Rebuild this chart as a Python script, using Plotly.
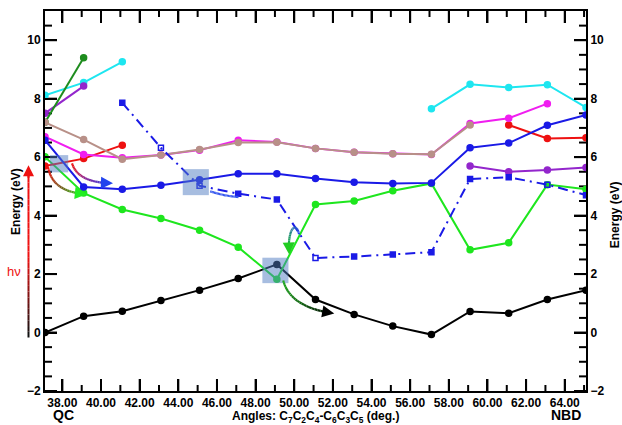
import plotly.graph_objects as go
import numpy as np

# ---------------- data ----------------
angles = [37.1, 39.1, 41.1, 43.1, 45.1, 47.1, 49.1, 51.1, 53.1, 55.1, 57.1, 59.1, 61.1, 63.1, 65.1]

s_black = [0.0, 0.56, 0.73, 1.1, 1.45, 1.85, 2.33, 1.13, 0.62, 0.22, -0.07, 0.72, 0.66, 1.13, 1.45]
s_green = [6.01, 4.77, 4.21, 3.9, 3.5, 2.92, 1.82, 4.38, 4.5, 4.85, 5.1, 2.83, 3.07, 5.06, 4.9]
s_blue = [6.58, 4.98, 4.9, 5.04, 5.23, 5.43, 5.43, 5.27, 5.14, 5.1, 5.12, 6.32, 6.48, 7.09, 7.44]
s_blue_dd = [None, None, 7.86, 6.32, 5.02, 4.75, 4.55, 2.55, 2.6, 2.67, 2.75, 5.25, 5.31, 5.06, 4.7]
s_magenta = [6.7, 6.09, 5.98, 6.07, 6.24, 6.58, 6.52, 6.3, 6.17, 6.12, 6.09, 7.15, 7.33, 7.83, None]
s_brown = [7.19, 6.6, 5.93, 6.07, 6.26, 6.5, 6.51, 6.3, 6.17, 6.12, 6.1, 7.1, None, None, None]
s_red = [5.7, 5.95, 6.41, None, None, None, None, None, None, None, None, None, 7.1, 6.64, 6.66]
s_cyan = [8.12, 8.55, 9.26, None, None, None, None, None, None, None, 7.66, 8.49, 8.38, 8.48, 7.7]
s_purple = [7.5, 8.43, None, None, None, None, None, None, None, None, None, 5.7, 5.5, 5.56, 5.65]
s_dkgreen = [7.19, 9.4, None, None, None, None, None, None, None, None, None, None, None, None, None]

blue_dd_symbols = ['square', 'square', 'square', 'square-open', 'square-open', 'square', 'square',
                   'square-open', 'square', 'square', 'square', 'square', 'square', 'square-open', 'square']

x_ticks = [38, 40, 42, 44, 46, 48, 50, 52, 54, 56, 58, 60, 62, 64]
x_minor = [39, 41, 43, 45, 47, 49, 51, 53, 55, 57, 59, 61, 63, 65]
y_ticks = [-2, 0, 2, 4, 6, 8, 10]
y_minor = [-1.5, -1, -0.5, 0.5, 1, 1.5, 2.5, 3, 3.5, 4.5, 5, 5.5, 6.5, 7, 7.5, 8.5, 9, 9.5, 10.5]

X_RANGE = [37.1, 65.1]
Y_RANGE = [-2, 11]

# highlight boxes (x0, x1, y0, y1) in data units
boxes = [(37.36, 38.30, 5.48, 6.07), (44.23, 45.58, 4.70, 5.59), (48.35, 49.70, 1.69, 2.56)]

# curved arrows: control points (data units) and colour stops
arrows = [
    dict(pts=[(37.26, 5.66), (37.47, 4.80), (39.27, 4.73)], cols=['#ee1111', '#7a5a20', '#22ee22']),
    dict(pts=[(38.50, 5.79), (38.81, 5.11), (40.62, 5.11)], cols=['#ee1111', '#8a2a9a', '#2244ee']),
    dict(pts=[(45.65, 4.83), (46.42, 4.66), (47.25, 4.63)], cols=['#3355ee', '#3355ee']),
    dict(pts=[(50.25, 3.36), (50.10, 3.85), (49.62, 3.55), (49.74, 2.67)], cols=['#2244ee', '#2a7aa0', '#22cc22']),
    dict(pts=[(49.43, 1.78), (49.79, 0.86), (52.07, 0.65)], cols=['#22aa22', '#116611', '#000000']),
]

FONT = "Liberation Sans"
PLOT_W, PLOT_H = 541.0, 380.0
DX = (X_RANGE[1] - X_RANGE[0]) / PLOT_W   # data units per pixel
DY = (Y_RANGE[1] - Y_RANGE[0]) / PLOT_H

fig = go.Figure()

# ---- tick marks as line traces (inside, all four sides) ----
tx, ty = [], []
for xv, ln in [(v, 12) for v in x_ticks] + [(v, 6) for v in x_minor]:
    tx += [xv, xv, None, xv, xv, None]
    ty += [Y_RANGE[0], Y_RANGE[0] + ln * DY, None, Y_RANGE[1], Y_RANGE[1] - ln * DY, None]
for yv, ln in [(v, 12) for v in y_ticks] + [(v, 7) for v in y_minor]:
    tx += [X_RANGE[0], X_RANGE[0] + ln * DX, None, X_RANGE[1], X_RANGE[1] - ln * DX, None]
    ty += [yv, yv, None, yv, yv, None]
fig.add_trace(go.Scatter(x=tx, y=ty, mode='lines', line=dict(color='black', width=2),
                         showlegend=False, hoverinfo='skip', cliponaxis=False))


def add_line(y, color, width=2.0, msize=6, symbol='circle', dash='solid'):
    fig.add_trace(go.Scatter(x=angles, y=y, mode='lines+markers',
                             line=dict(color=color, width=width, dash=dash),
                             marker=dict(color=color, size=msize, symbol=symbol,
                                         line=dict(color=color, width=1.5)),
                             showlegend=False, hoverinfo='skip'))


add_line(s_black, '#000000')
add_line(s_green, '#1ee61e')
add_line(s_cyan, '#1ee6f0')
add_line(s_purple, '#9326cc')
add_line(s_dkgreen, '#1e8c1e')
add_line(s_red, '#ee1111')
add_line(s_magenta, '#f01ef0')
add_line(s_brown, '#b89088')
add_line(s_blue_dd, '#1a1ae6', width=2.0, msize=5, symbol=blue_dd_symbols, dash='10px,5px,2px,5px')
add_line(s_blue, '#1a1ae6')

# dummy trace for right axis
fig.add_trace(go.Scatter(x=[None], y=[None], yaxis='y2', showlegend=False, hoverinfo='skip'))

shapes = []
annotations = []

for (x0, x1, y0, y1) in boxes:
    shapes.append(dict(type='rect', xref='x', yref='y', x0=x0, x1=x1, y0=y0, y1=y1,
                       fillcolor='rgba(80,123,193,0.5)', line=dict(width=0), layer='above'))


def hex2rgb(h):
    h = h.lstrip('#')
    return np.array([int(h[i:i + 2], 16) for i in (0, 2, 4)], dtype=float)


def interp_color(cols, t):
    n = len(cols) - 1
    if n == 0:
        return cols[0]
    k = min(int(t * n), n - 1)
    f = t * n - k
    c = (1 - f) * hex2rgb(cols[k]) + f * hex2rgb(cols[k + 1])
    return 'rgb(%d,%d,%d)' % tuple(c.astype(int))


def bezier(pts, t):
    p = [np.array(q, dtype=float) for q in pts]
    while len(p) > 1:
        p = [(1 - t) * p[i] + t * p[i + 1] for i in range(len(p) - 1)]
    return p[0]


for a in arrows:
    n = 24
    ts = np.linspace(0, 1, n + 1)
    P = [bezier(a['pts'], t) for t in ts]
    for i in range(n - 2):
        c = interp_color(a['cols'], ts[i])
        shapes.append(dict(type='line', xref='x', yref='y', x0=P[i][0], y0=P[i][1],
                           x1=P[i + 1][0], y1=P[i + 1][1], line=dict(color=c, width=2.2)))
    annotations.append(dict(x=P[-1][0], y=P[-1][1], ax=P[-4][0], ay=P[-4][1],
                            xref='x', yref='y', axref='x', ayref='y', text='', showarrow=True,
                            arrowhead=2, arrowsize=1.1, arrowwidth=2.2,
                            arrowcolor=interp_color(a['cols'], 1.0)))

# vertical h-nu arrow outside the plot (paper x, data y)
px_arrow = -0.0305
ya, yb = -0.17, 5.72
n = 30
ys = np.linspace(ya, yb, n + 1)
for i in range(n - 1):
    t = i / n
    f = min(1.0, t / 0.45)
    c = (1 - f) * hex2rgb('#111111') + f * hex2rgb('#ee1111')
    shapes.append(dict(type='line', xref='paper', yref='y', x0=px_arrow, x1=px_arrow,
                       y0=ys[i], y1=ys[i + 1], line=dict(color='rgb(%d,%d,%d)' % tuple(c.astype(int)), width=2)))
annotations.append(dict(x=px_arrow, y=yb, ax=0, ay=14, xref='paper', yref='y',
                        axref='pixel', ayref='pixel', text='', showarrow=True, arrowhead=2,
                        arrowsize=1.1, arrowwidth=2, arrowcolor='#ee1111'))

C = dict(xanchor='center', yanchor='middle', showarrow=False)
annotations += [
    dict(x=-0.057, y=2.1, xref='paper', yref='y', text='hν',
         font=dict(family=FONT, size=13, color='#ee1111'), **C),
    dict(x=-0.0537, y=0.5, xref='paper', yref='paper', text='<b>Energy (eV)</b>', textangle=-90,
         font=dict(family=FONT, size=12, color='black'), **C),
    dict(x=1.054, y=0.463, xref='paper', yref='paper', text='<b>Energy (eV)</b>', textangle=-90,
         font=dict(family=FONT, size=12, color='black'), **C),
    dict(x=0.5, y=-0.068, xref='paper', yref='paper',
         text='<b>Angles: C<sub>7</sub>C<sub>2</sub>C<sub>4</sub>-C<sub>6</sub>C<sub>3</sub>C<sub>5</sub> (deg.)</b>',
         font=dict(family=FONT, size=12, color='black'), **C),
    dict(x=0.0333, y=-0.063, xref='paper', yref='paper', text='<b>QC</b>',
         font=dict(family=FONT, size=14, color='black'), **C),
    dict(x=0.963, y=-0.063, xref='paper', yref='paper', text='<b>NBD</b>',
         font=dict(family=FONT, size=14, color='black'), **C),
]

tickfont = dict(family=FONT, size=12, color='black', weight='bold')

common_y = dict(range=Y_RANGE, tickvals=y_ticks, ticks='inside', ticklen=12, tickwidth=2,
                tickcolor='black', showline=True, linewidth=2,
                linecolor='black', showgrid=False, zeroline=False, tickfont=tickfont)

fig.update_layout(
    width=622, height=425,
    margin=dict(l=45, r=36, t=11, b=34, autoexpand=False),
    paper_bgcolor='white', plot_bgcolor='white',
    shapes=shapes, annotations=annotations,
    xaxis=dict(range=X_RANGE, tickvals=x_ticks, ticktext=['%.2f' % v for v in x_ticks],
               ticks='inside', ticklen=12, tickwidth=2, tickcolor='black',
               showline=True, linewidth=2, linecolor='black', mirror='ticks',
               showgrid=False, zeroline=False, tickfont=tickfont, automargin=False),
    yaxis=dict(**common_y, automargin=False),
    yaxis2=dict(**common_y, overlaying='y', side='right', anchor='x', automargin=False),
)

fig.write_html("out.html", config={'displayModeBar': False},
               post_script="document.body.style.margin='0';document.body.style.padding='0';")
